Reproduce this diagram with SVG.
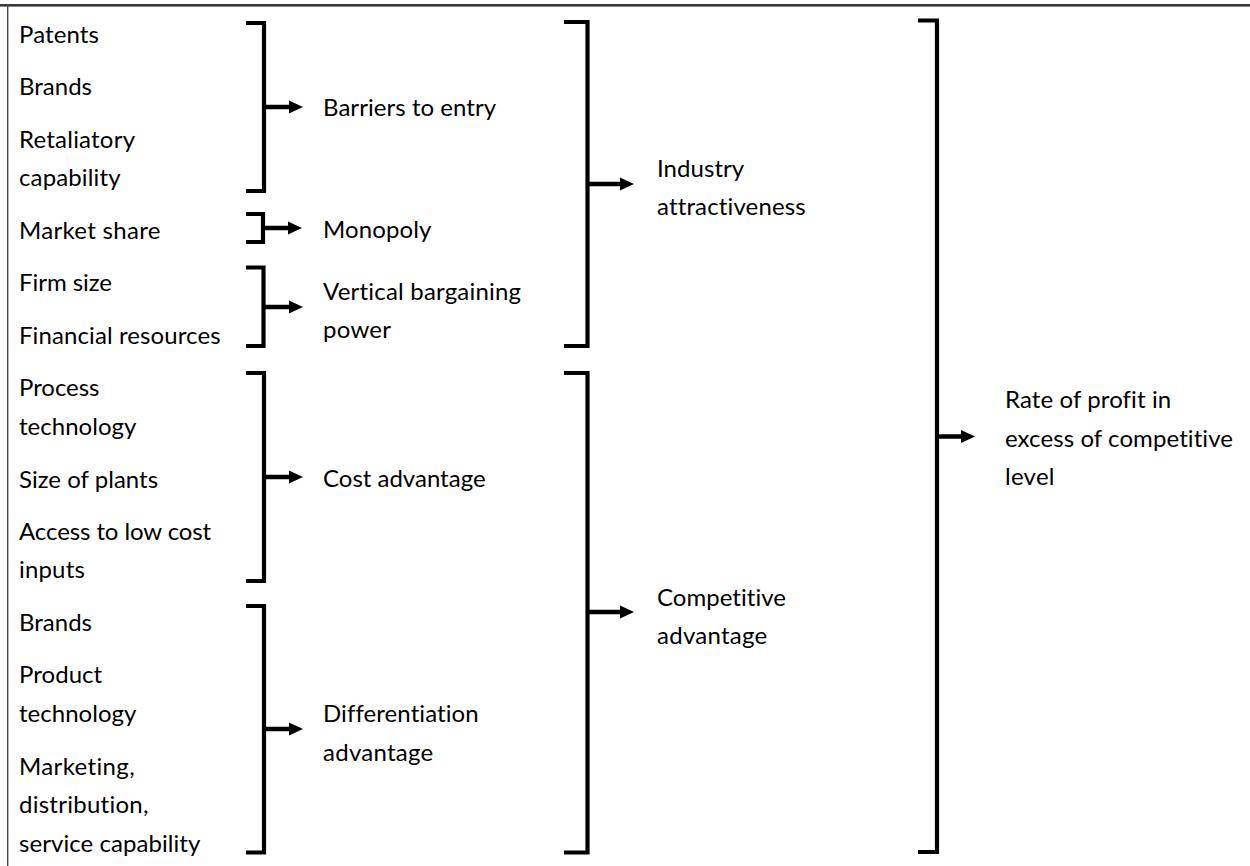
<svg xmlns="http://www.w3.org/2000/svg" width="1250" height="866" viewBox="0 0 1250 866">
  <defs>
    <style>
      text { font-family: Lato, "Open Sans", "Liberation Sans", sans-serif; font-size: 24px; fill: #000; font-variant-ligatures: none; font-feature-settings: "liga" 0, "clig" 0; }
      .brk { fill: none; stroke: #000; stroke-width: 4.2; stroke-linejoin: miter; stroke-linecap: butt; }
      .arr { stroke: #000; stroke-width: 4.5; marker-end: url(#head); }
    </style>
    <marker id="head" markerUnits="userSpaceOnUse" markerWidth="15" markerHeight="14" refX="1" refY="7" orient="auto">
      <path d="M0,0.5 L14,7 L0,13.5 Z" fill="#000"/>
    </marker>
  </defs>

  <rect width="1250" height="866" fill="#fff"/>
  <!-- frame edges -->
  <rect x="0" y="4" width="1250" height="2.6" fill="#383838"/>
  <rect x="7" y="4" width="1.4" height="862" fill="#444"/>

  <!-- factor labels -->
  <g id="n-patents"><text x="19" y="42.5" textLength="80">Patents</text></g>
  <g id="n-brands-1"><text x="19" y="95" textLength="73">Brands</text></g>
  <g id="n-retaliatory"><text x="19" y="147.5" textLength="116">Retaliatory</text><text x="19" y="186" textLength="101.5">capability</text></g>
  <g id="n-market-share"><text x="19" y="238.5" textLength="141.4">Market share</text></g>
  <g id="n-firm-size"><text x="19" y="291" textLength="93">Firm size</text></g>
  <g id="n-financial"><text x="19" y="343.5" textLength="201.6">Financial resources</text></g>
  <g id="n-process"><text x="19" y="396" textLength="80.5">Process</text><text x="19" y="434.5" textLength="117.4">technology</text></g>
  <g id="n-plants"><text x="19" y="487.5" textLength="139.1">Size of plants</text></g>
  <g id="n-inputs"><text x="19" y="540" textLength="192.2">Access to low cost</text><text x="19" y="578" textLength="65.8">inputs</text></g>
  <g id="n-brands-2"><text x="19" y="630.5" textLength="73">Brands</text></g>
  <g id="n-product"><text x="19" y="683" textLength="83.2">Product</text><text x="19" y="721.5" textLength="117.4">technology</text></g>
  <g id="n-marketing"><text x="19" y="774.5" textLength="115.6">Marketing,</text><text x="19" y="813" textLength="129.4">distribution,</text><text x="19" y="851.5" textLength="181.3">service capability</text></g>

  <!-- intermediate sources -->
  <g id="n-barriers"><text x="323" y="115.5" textLength="173.2">Barriers to entry</text></g>
  <g id="n-monopoly"><text x="323" y="238" textLength="108.4">Monopoly</text></g>
  <g id="n-vertical"><text x="323" y="299.5" textLength="198.1">Vertical bargaining</text><text x="323" y="338" textLength="68">power</text></g>
  <g id="n-cost"><text x="323" y="486.5" textLength="162.6">Cost advantage</text></g>
  <g id="n-differentiation"><text x="323" y="722" textLength="155.6">Differentiation</text><text x="323" y="760.5" textLength="110.3">advantage</text></g>

  <!-- aggregate sources -->
  <g id="n-industry"><text x="657" y="177" textLength="87.2">Industry</text><text x="657" y="215" textLength="148.7">attractiveness</text></g>
  <g id="n-competitive"><text x="657" y="605.5" textLength="129">Competitive</text><text x="657" y="644" textLength="110.3">advantage</text></g>

  <!-- outcome -->
  <g id="n-profit"><text x="1005" y="408" textLength="166.2">Rate of profit in</text><text x="1005" y="446.5" textLength="228">excess of competitive</text><text x="1005" y="485" textLength="49.5">level</text></g>

  <!-- brackets and arrows -->
  <g id="connectors">
    <path class="brk" d="M246,23 H264 V191 H246"/>
    <line class="arr" x1="264" y1="107" x2="290" y2="107"/>

    <path class="brk" d="M246,214 H263 V242 H246"/>
    <line class="arr" x1="263" y1="228" x2="289" y2="228"/>

    <path class="brk" d="M246,267.5 H263.5 V346 H246"/>
    <line class="arr" x1="263.5" y1="307" x2="290" y2="307"/>

    <path class="brk" d="M246,373 H264 V581 H246"/>
    <line class="arr" x1="264" y1="477" x2="290" y2="477"/>

    <path class="brk" d="M246,606 H264 V852.5 H246"/>
    <line class="arr" x1="264" y1="729" x2="290" y2="729"/>

    <path class="brk" d="M564,22 H587.5 V346 H564"/>
    <line class="arr" x1="587.5" y1="184" x2="621" y2="184"/>

    <path class="brk" d="M564,373 H587.5 V852.5 H564"/>
    <line class="arr" x1="587.5" y1="612" x2="621" y2="612"/>

    <path class="brk" d="M918,20.5 H937 V852 H918"/>
    <line class="arr" x1="937" y1="436.5" x2="962" y2="436.5"/>
  </g>
</svg>
